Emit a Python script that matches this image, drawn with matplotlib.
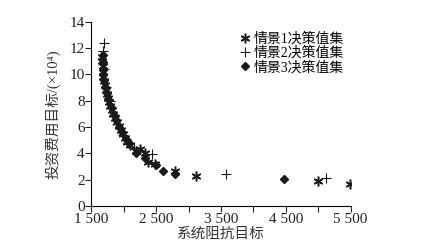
import matplotlib
matplotlib.use('Agg')
import matplotlib.pyplot as plt

plt.rcParams['font.family'] = ['Liberation Serif', 'Noto Sans CJK SC']

# Scenario 1 decision set (asterisk)
s1_x = [1660, 1665, 1670, 1675, 1685, 1695, 1705, 1720, 1735, 1750, 1770, 1790, 1810,
        1835, 1860, 1890, 1920, 1950, 1980, 2010, 2050, 2100, 2180, 2250, 2325, 2377,
        2480, 2790, 3115, 5000, 5490]
s1_y = [11.3, 11.0, 10.6, 10.2, 9.8, 9.5, 9.2, 8.8, 8.5, 8.2, 7.9, 7.6, 7.3,
        7.0, 6.7, 6.4, 6.1, 5.8, 5.5, 5.2, 4.9, 4.6, 4.2, 4.3, 4.05, 3.32,
        3.17, 2.68, 2.28, 1.9, 1.65]

# Scenario 2 decision set (plus)
s2_x = [1690, 1680, 1700, 1730, 1780, 1840, 1900, 1990, 2070, 2150, 2430, 3575, 5120]
s2_y = [12.4, 11.8, 10.4, 9.0, 8.0, 6.9, 6.2, 5.4, 4.8, 4.4, 3.93, 2.4, 2.1]

# Scenario 3 decision set (diamond)
s3_x = [1670, 1675, 1685, 1700, 1715, 1740, 1760, 1800, 1850, 1880, 1930, 1970, 2030,
        2080, 2190, 2325, 2500, 2610, 2790, 4475]
s3_y = [11.5, 10.9, 10.0, 9.6, 9.0, 8.6, 8.1, 7.5, 6.9, 6.5, 6.0, 5.6, 5.1,
        4.8, 4.0, 3.62, 3.1, 2.68, 2.43, 2.07]

labels = ['情景1决策值集', '情景2决策值集', '情景3决策值集']
xticks = [1500, 2000, 2500, 3000, 3500, 4000, 4500, 5000, 5500]
xticklabels = ['1 500', '', '2 500', '', '3 500', '', '4 500', '', '5 500']
yticks = [0, 2, 4, 6, 8, 10, 12, 14]

fig = plt.figure(figsize=(4.42, 2.48), dpi=100)
ax = fig.add_axes([0.207, 0.169, 0.586, 0.744])

c = '#1a1a1a'
ax.plot(s1_x, s1_y, linestyle='none', marker=(6, 2, 0), markersize=7, mew=1.1, color=c, label=labels[0])
ax.plot(s2_x, s2_y, linestyle='none', marker='+', markersize=7.5, mew=0.8, color=c, label=labels[1])
ax.plot(s3_x, s3_y, linestyle='none', marker='D', markersize=4.5, color=c, label=labels[2])

# Axes
ax.set_xlim(1500, 5500)
ax.set_ylim(0, 14)
ax.set_xticks(xticks)
ax.set_xticklabels(xticklabels)
ax.set_yticks(yticks)
for s in ['top', 'right']:
    ax.spines[s].set_visible(False)
for s in ['left', 'bottom']:
    ax.spines[s].set_linewidth(0.8)
ax.tick_params(direction='out', length=4, width=0.8, labelsize=11, pad=1, colors='#222222')

# Labels
ax.set_xlabel('系统阻抗目标', fontsize=10.5, color='#333333', labelpad=1)
ax.set_ylabel('投资费用目标/(×10⁴)', fontsize=10.5, color='#333333', labelpad=6)

# Legend
ax.legend(loc='upper left', bbox_to_anchor=(0.55, 0.98), frameon=False, fontsize=10,
          handlelength=0.6, handletextpad=0.3, labelspacing=0.05, borderpad=0)

fig.savefig('out.png', dpi=100)
